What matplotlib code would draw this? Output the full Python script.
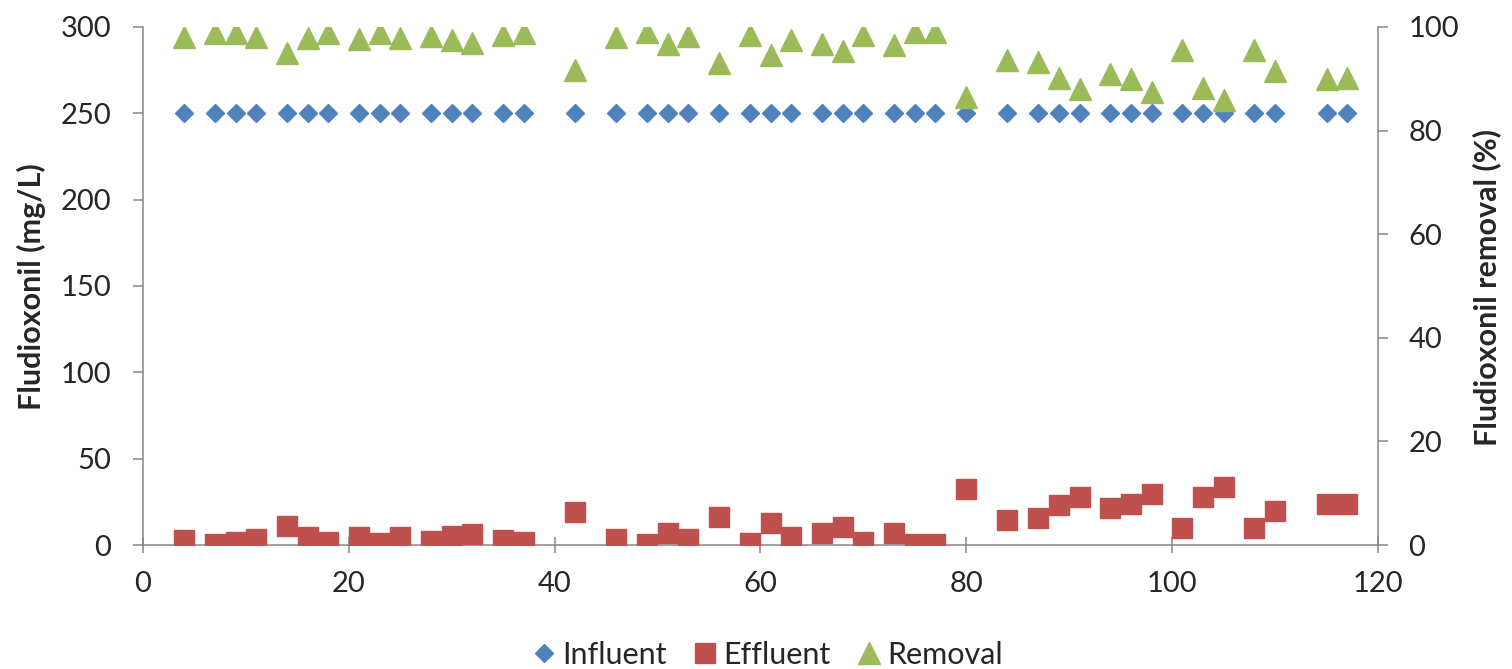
import matplotlib.pyplot as plt
from matplotlib.lines import Line2D

plt.rcParams['font.family'] = ['Lato', 'DejaVu Sans']
plt.rcParams['font.size'] = 21

# Dias de operacao
days = [4, 7, 9, 11, 14, 16, 18, 21, 23, 25, 28, 30, 32, 35, 37,
        42, 46, 49, 51, 53, 56, 59, 61, 63, 66, 68, 70, 73, 75, 77,
        80, 84, 87, 89, 91, 94, 96, 98, 101, 103, 105, 108, 110, 115, 117]

# Concentracao de entrada (mg/L)
influent = [250, 250, 250, 250, 250, 250, 250, 250, 250, 250, 250, 250, 250, 250, 250,
            250, 250, 250, 250, 250, 250, 250, 250, 250, 250, 250, 250, 250, 250, 250,
            250, 250, 250, 250, 250, 250, 250, 250, 250, 250, 250, 250, 250, 250, 250]

# Concentracao de saida (mg/L)
effluent = [2.9, 0.6, 2.0, 3.5, 11.0, 4.8, 2.0, 4.8, 1.0, 4.4, 2.5, 5.4, 6.4, 2.9, 1.5,
            19.3, 3.3, 0.6, 6.8, 3.3, 16.4, 1.4, 12.5, 4.8, 6.8, 10.6, 1.9, 7.1, 0.6, 0.6,
            32.2, 14.5, 15.4, 23.2, 28.0, 21.2, 23.7, 29.5, 9.7, 28.0, 33.4, 9.7, 19.9, 23.6, 23.6]

# Remocao (%)
removal = [98.1, 98.8, 98.8, 98.1, 94.9, 97.9, 98.8, 97.6, 98.8, 97.9, 98.3, 97.4, 96.9, 98.4, 98.8,
           91.7, 98.1, 99.1, 96.7, 98.2, 93.0, 98.5, 94.5, 97.5, 96.7, 95.4, 98.4, 96.5, 99.0, 99.0,
           86.5, 93.6, 93.2, 90.1, 88.0, 91.0, 89.9, 87.5, 95.6, 88.2, 86.0, 95.6, 91.6, 90.0, 90.2]

c_inf = '#4F81BD'
c_eff = '#C0504D'
c_rem = '#9BBB59'
axis_gray = '#868686'
text_col = '#262626'

ms_inf, ms_eff, ms_rem = 9.5, 14.5, 15.5

fig = plt.figure(figsize=(15.12, 6.69), dpi=100)
ax = fig.add_axes([143 / 1512, 124 / 669, 1235 / 1512, 518 / 669])
ax2 = ax.twinx()

ax.plot(days, influent, linestyle='none', marker='D', ms=ms_inf, color=c_inf, zorder=3)
ax.plot(days, effluent, linestyle='none', marker='s', ms=ms_eff, color=c_eff, zorder=3)
ax2.plot(days, removal, linestyle='none', marker='^', ms=ms_rem, color=c_rem, zorder=3)

ax.set_xlim(0, 120)
ax.set_ylim(0, 300)
ax2.set_ylim(0, 100)
ax.set_xticks(range(0, 121, 20))
ax.set_yticks(range(0, 301, 50))
ax2.set_yticks(range(0, 101, 20))

for a in (ax, ax2):
    a.spines['top'].set_visible(False)
    for s in ('left', 'right', 'bottom'):
        a.spines[s].set_color(axis_gray)
        a.spines[s].set_linewidth(1.1)
ax.spines['right'].set_visible(False)
ax2.spines['left'].set_visible(False)
ax2.spines['bottom'].set_visible(False)

ax.tick_params(axis='y', direction='out', length=7, width=1.1, color=axis_gray,
               pad=16, labelcolor=text_col)
ax.tick_params(axis='x', direction='inout', length=12, width=1.1, color=axis_gray,
               pad=13, labelcolor=text_col)
ax2.tick_params(axis='y', direction='out', length=7, width=1.1, color=axis_gray,
                pad=15, labelcolor=text_col)

# Rotulos dos eixos, centrados na altura do grafico
y_mid = 1 - 287 / 669
fig.text(31 / 1512, y_mid, 'Fludioxonil (mg/L)', rotation=90, ha='center', va='center',
         fontweight='bold', color=text_col, fontsize=22)
fig.text(1487 / 1512, y_mid, 'Fludioxonil removal (%)', rotation=90, ha='center',
         va='center', fontweight='bold', color=text_col, fontsize=22)

handles = [
    Line2D([0], [0], linestyle='none', marker='D', ms=ms_inf, color=c_inf, label='Influent'),
    Line2D([0], [0], linestyle='none', marker='s', ms=ms_eff, color=c_eff, label='Effluent'),
    Line2D([0], [0], linestyle='none', marker='^', ms=ms_rem, color=c_rem, label='Removal'),
]
fig.legend(handles=handles, loc='center', bbox_to_anchor=(768 / 1512, 1 - 655 / 669),
           ncol=3, frameon=False, handlelength=0.7, handletextpad=0.25,
           columnspacing=0.9, fontsize=22, labelcolor=text_col)

fig.savefig('out.png', dpi=100, facecolor='white')
